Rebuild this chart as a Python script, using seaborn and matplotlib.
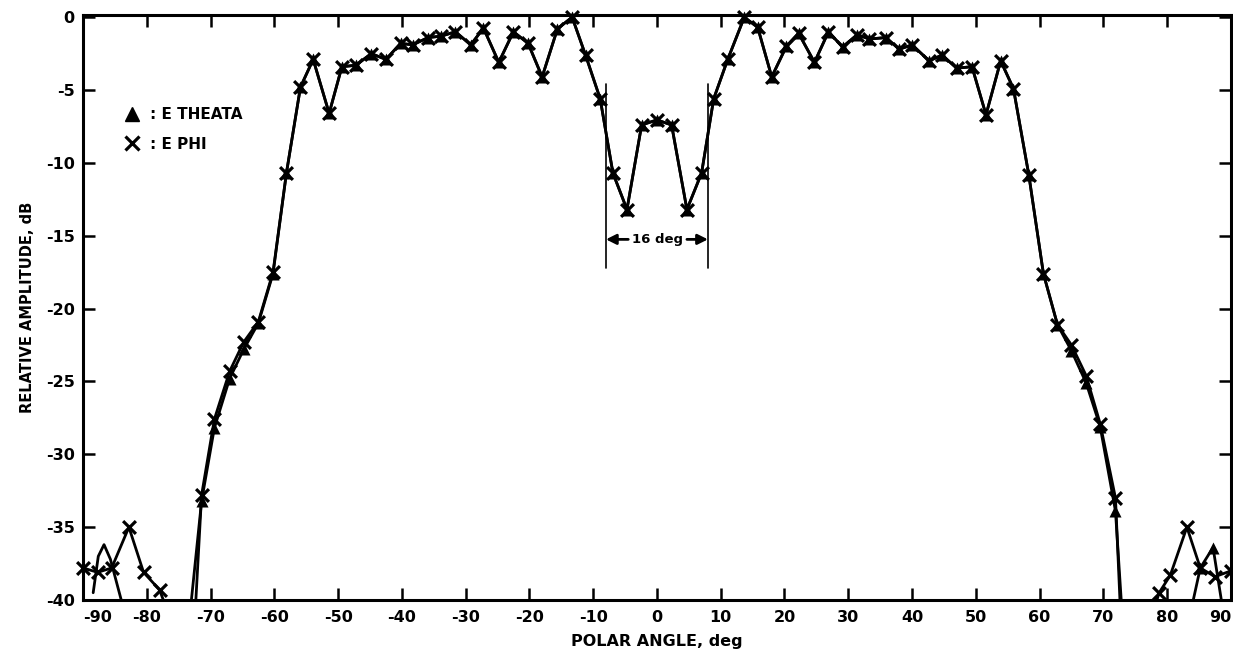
import matplotlib
matplotlib.use("Agg")
import matplotlib.pyplot as plt
from matplotlib.lines import Line2D
import numpy as np
import pandas as pd
import seaborn as sns

# ---- measured pattern data -------------------------------------------------
# Main-lobe sample angles (deg), shared by both polarizations
main_deg = [-71.4, -69.4, -67.0, -64.8, -62.5, -60.2,
            -58.1, -55.9, -53.9, -51.4, -49.4, -47.2, -44.8, -42.5, -40.2, -38.3,
            -35.9, -33.8, -31.6, -29.2, -27.2, -24.8, -22.5, -20.2, -18.0, -15.6,
            -13.3, -11.2, -8.9, -6.9, -4.7, -2.4, 0.0, 2.3, 4.7, 7.0,
            8.9, 11.1, 13.7, 15.8, 18.0, 20.3, 22.2, 24.7, 26.9, 29.1,
            31.4, 33.3, 35.9, 38.0, 40.0, 42.7, 44.7, 47.0, 49.4, 51.6,
            53.9, 55.9, 58.3, 60.6, 62.8, 65.0, 67.3, 69.5, 71.9]

phi_main_db = [-32.8, -27.6, -24.3, -22.3, -20.9, -17.5,
               -10.7, -4.8, -2.9, -6.6, -3.4, -3.3, -2.5, -2.9, -1.8, -1.9,
               -1.4, -1.3, -1.0, -1.9, -0.75, -3.1, -1.0, -1.8, -4.1, -0.8,
               0.0, -2.6, -5.6, -10.7, -13.2, -7.4, -7.05, -7.4, -13.2, -10.7,
               -5.6, -2.9, 0.0, -0.7, -4.1, -2.0, -1.1, -3.1, -1.0, -2.05,
               -1.2, -1.5, -1.4, -2.2, -1.9, -3.0, -2.6, -3.5, -3.4, -6.7,
               -3.0, -4.9, -10.8, -17.6, -21.1, -22.5, -24.6, -27.9, -33.0]

theta_main_db = [-33.2, -28.2, -24.8, -22.8, -21.0, -17.6,
                 -10.7, -4.8, -2.9, -6.6, -3.4, -3.3, -2.5, -2.9, -1.8, -1.9,
                 -1.4, -1.3, -1.0, -1.9, -0.75, -3.1, -1.0, -1.8, -4.1, -0.8,
                 0.0, -2.6, -5.6, -10.7, -13.2, -7.4, -7.05, -7.4, -13.2, -10.7,
                 -5.6, -2.9, 0.0, -0.7, -4.1, -2.0, -1.1, -3.1, -1.0, -2.05,
                 -1.2, -1.5, -1.4, -2.2, -1.9, -3.0, -2.6, -3.5, -3.4, -6.7,
                 -3.0, -4.9, -10.8, -17.6, -21.1, -22.9, -25.1, -28.1, -33.9]

# Where the main-lobe traces leave the -40 dB floor
phi_main_edges_deg = [-72.3, 72.6]
theta_main_edges_deg = [-73.0, 72.8]

# Far side lobes
phi_left_deg = [-90.0, -87.7, -85.5, -82.8, -80.5, -78.0, -77.4]
phi_left_db = [-37.8, -38.1, -37.8, -35.0, -38.1, -39.3, -40.0]
phi_right_deg = [78.4, 78.75, 80.5, 83.1, 85.2, 87.5, 90.0]
phi_right_db = [-40.0, -39.5, -38.3, -35.0, -37.8, -38.4, -38.0]
theta_right_deg = [84.1, 85.2, 87.2, 88.5]
theta_right_db = [-40.0, -37.8, -36.4, -40.0]
# traced E-theta lobe near -87 deg (curve only)
theta_lobe_deg = [-88.4, -87.6, -86.7, -85.7, -84.0]
theta_lobe_db = [-39.5, -37.0, -36.2, -37.2, -40.0]

FLOOR = -40.0

y_ticks = [0, -5, -10, -15, -20, -25, -30, -35, -40]
x_ticks = list(range(-90, 91, 10))


def segment_frame(deg, db, seg, pol):
    return pd.DataFrame({"angle": deg, "db": db, "segment": seg, "pol": pol})


phi_df = pd.concat([
    segment_frame(phi_left_deg, phi_left_db, "left", "phi"),
    segment_frame([phi_main_edges_deg[0]] + main_deg + [phi_main_edges_deg[1]],
                  [FLOOR] + phi_main_db + [FLOOR], "main", "phi"),
    segment_frame(phi_right_deg, phi_right_db, "right", "phi"),
], ignore_index=True)

theta_df = pd.concat([
    segment_frame([theta_main_edges_deg[0]] + main_deg + [theta_main_edges_deg[1]],
                  [FLOOR] + theta_main_db + [FLOOR], "main", "theta"),
    segment_frame(theta_right_deg, theta_right_db, "right", "theta"),
], ignore_index=True)

lobe_df = segment_frame(theta_lobe_deg, theta_lobe_db, "lobe", "theta")

# ---- figure ----------------------------------------------------------------
sns.set_style("ticks")
plt.rcParams["font.family"] = ["DejaVu Sans"]
plt.rcParams["axes.unicode_minus"] = False
for key in ("text.color", "axes.labelcolor", "xtick.color", "ytick.color"):
    plt.rcParams[key] = "black"

fig = plt.figure(figsize=(12.33, 6.6), dpi=100)
ax = fig.add_axes([0.0673, 0.0909, 0.931, 0.8864])

line_kw = dict(color="black", linewidth=2.0, estimator=None, sort=False,
               legend=False)
sns.lineplot(data=theta_df, x="angle", y="db", units="segment", ax=ax, **line_kw)
sns.lineplot(data=phi_df, x="angle", y="db", units="segment", ax=ax, **line_kw)
sns.lineplot(data=lobe_df, x="angle", y="db", units="segment", ax=ax, **line_kw)

theta_pts = theta_df[theta_df["db"] > FLOOR]
phi_pts = phi_df[phi_df["db"] > FLOOR]
sns.scatterplot(data=theta_pts, x="angle", y="db", marker="^", color="black",
                s=75, linewidth=0, ax=ax, legend=False, clip_on=False, zorder=4)
sns.scatterplot(data=phi_pts, x="angle", y="db", marker="x", color="black",
                s=85, linewidth=2.3, ax=ax, legend=False, clip_on=False, zorder=4)

ax.set_xlim(-90, 90)
ax.set_ylim(-40, 0.15)
ax.set_xticks(x_ticks)
ax.set_xticklabels([str(v) for v in x_ticks])
ax.set_yticks(y_ticks)
ax.set_yticklabels([str(v) for v in y_ticks])

for sp in ax.spines.values():
    sp.set_visible(True)
    sp.set_linewidth(2.2)
    sp.set_color("black")

ax.tick_params(axis="both", which="major", direction="in", length=8.5, width=1.8,
               top=True, right=True, labelsize=11.5, color="black",
               labelcolor="black")
ax.tick_params(axis="x", pad=7)
ax.tick_params(axis="y", pad=6)
for lab in ax.get_xticklabels() + ax.get_yticklabels():
    lab.set_fontweight("bold")
# keep the end labels inside the frame
xt = ax.get_xticklabels()
xt[0].set_horizontalalignment("left")
xt[-1].set_horizontalalignment("right")

ax.set_xlabel("POLAR ANGLE, deg", fontsize=11.5, fontweight="bold", labelpad=7)
ax.set_ylabel("RELATIVE AMPLITUDE, dB", fontsize=10.5, fontweight="bold", labelpad=8)

# 16 deg null-width marker
for xv in (-8, 8):
    ax.plot([xv, xv], [-4.6, -17.2], color="black", linewidth=1.2)
ax.text(0.1, -15.25, "16 deg", ha="center", va="center", fontsize=9.5,
        fontweight="bold")
arrow = dict(arrowstyle="-|>,head_length=0.6,head_width=0.3", color="black",
             linewidth=2.0, shrinkA=0, shrinkB=0)
ax.annotate("", xy=(-8, -15.25), xytext=(-4.5, -15.25), arrowprops=arrow)
ax.annotate("", xy=(8, -15.25), xytext=(4.7, -15.25), arrowprops=arrow)

handles = [Line2D([], [], marker="^", linestyle="", color="black", markersize=10),
           Line2D([], [], marker="x", linestyle="", color="black", markersize=10,
                  markeredgewidth=2.3)]
leg = ax.legend(handles, [": E THEATA", ": E PHI"], loc="upper left",
                bbox_to_anchor=(0.029, 0.853), borderaxespad=0, frameon=False,
                handlelength=1.2, handletextpad=0.6, labelspacing=0.95,
                prop={"size": 11, "weight": "bold"})

fig.savefig("out.png", dpi=100)
